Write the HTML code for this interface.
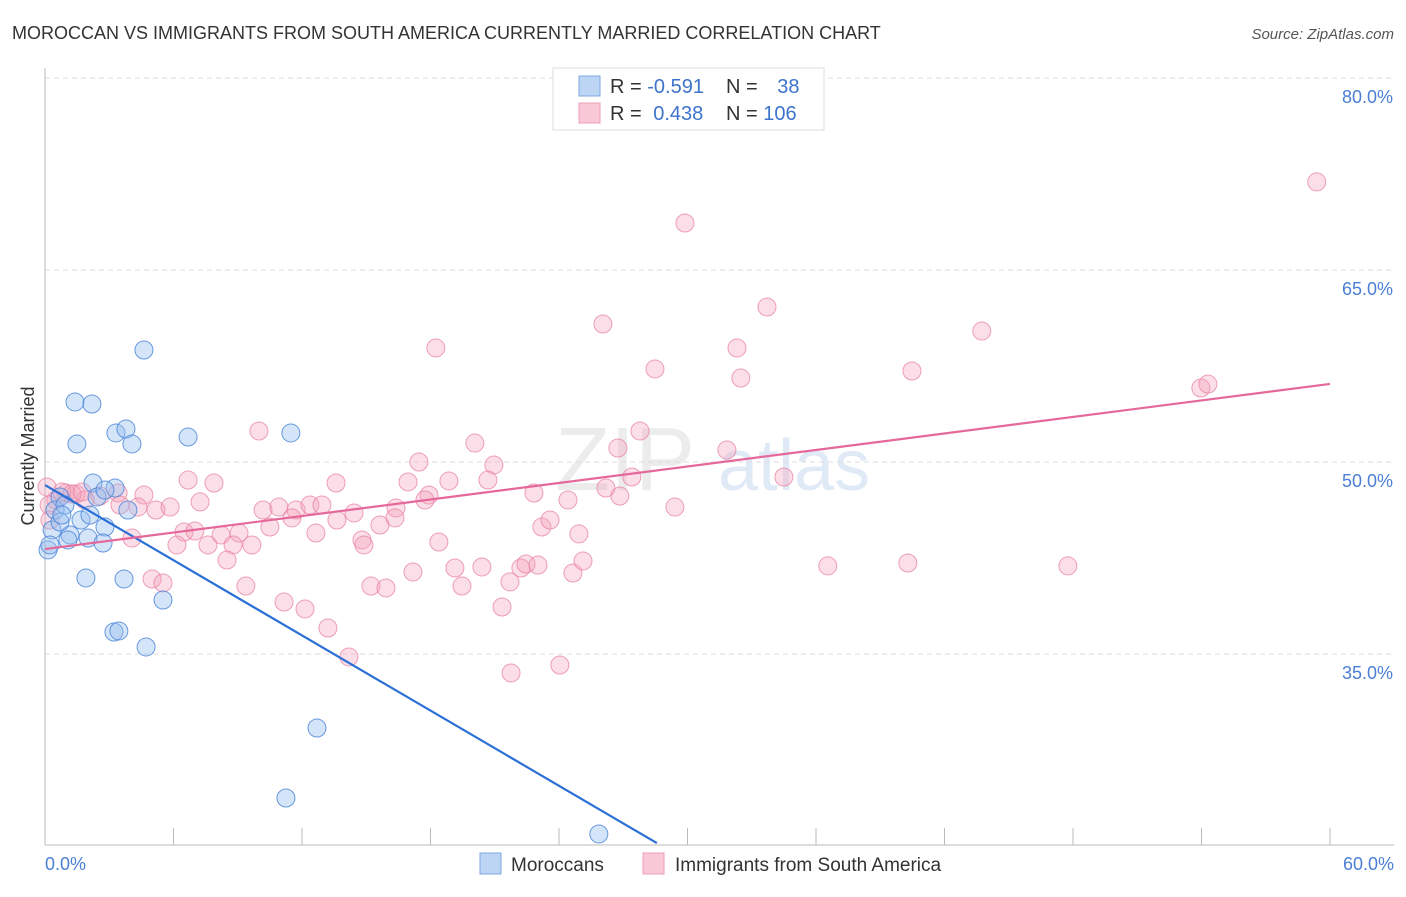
<!DOCTYPE html>
<html><head><meta charset="utf-8"><style>
body{margin:0;background:#fff;font-family:"Liberation Sans",sans-serif}
svg text{font-family:"Liberation Sans",sans-serif}
</style></head><body>
<svg id="chart" width="1406" height="892" xmlns="http://www.w3.org/2000/svg">
<text x="12" y="39" font-size="18" fill="#333">MOROCCAN VS IMMIGRANTS FROM SOUTH AMERICA CURRENTLY MARRIED CORRELATION CHART</text>
<text x="1394" y="39" font-size="15" fill="#555" text-anchor="end" font-style="italic">Source: ZipAtlas.com</text>
<g opacity="0.18"><text x="555" y="490" font-size="90" fill="#999" font-family="Liberation Serif">ZIP</text><text x="718" y="490" font-size="72" fill="#5b8ed8">atlas</text></g>
<g id="grid"></g>
<g id="axes"></g>
<g id="pink"></g>
<g id="blue"></g>
<g id="lines"></g>
<text transform="translate(34,456) rotate(-90)" font-size="18" fill="#333" text-anchor="middle">Currently Married</text>
<g>
<rect x="553" y="68" width="271" height="62" fill="#fff" stroke="#ddd"/>
<rect x="579" y="76" width="21" height="20" fill="#bcd5f5" stroke="#7fa8e0"/>
<rect x="579" y="103" width="21" height="20" fill="#f9c8d6" stroke="#eda0b8"/>
<text x="610" y="93" font-size="20" fill="#333">R = <tspan fill="#3d73cc">-0.591</tspan></text>
<text x="726" y="93" font-size="20" fill="#333">N = <tspan fill="#3d73cc" dx="14">38</tspan></text>
<text x="610" y="120" font-size="20" fill="#333">R = <tspan fill="#3d73cc" dx="6">0.438</tspan></text>
<text x="726" y="120" font-size="20" fill="#333">N = <tspan fill="#3d73cc">106</tspan></text>
</g>
<g>
<rect x="480" y="853" width="21" height="21" fill="#bcd5f5" stroke="#7fa8e0"/>
<text x="511" y="871" font-size="19" fill="#333">Moroccans</text>
<rect x="643" y="853" width="21" height="21" fill="#f9c8d6" stroke="#eda0b8"/>
<text x="675" y="871" font-size="19" fill="#333">Immigrants from South America</text>
</g>
</svg>
<script>
const yTicks=[80,65,50,35];
const yTickLabels=["80.0%","65.0%","50.0%","35.0%"];
const xTicks=[0,6,12,18,24,30,36,42,48,54,60];
const xEndLabels=["0.0%","60.0%"];
const blueX=[4.62,1.40,2.19,1.49,3.31,3.78,4.06,6.68,11.48,2.24,3.27,2.43,3.87,0.70,0.47,1.68,2.80,1.17,2.01,2.71,0.33,0.14,0.70,1.91,3.69,5.51,3.22,3.45,4.72,12.70,11.25,25.86,0.23,0.93,2.80,0.79,2.10,1.07];
const blueY=[58.75,54.69,54.53,51.41,52.27,52.58,51.41,51.95,52.27,48.36,47.97,47.27,46.25,47.27,46.25,45.47,44.92,44.30,44.06,43.67,44.69,43.13,45.31,40.94,40.86,39.22,36.72,36.80,35.55,29.22,23.75,20.94,43.52,46.64,47.81,45.86,45.86,43.91];
const pinkX=[59.38,29.88,33.71,26.05,43.74,18.25,32.31,28.48,40.48,32.49,53.97,54.30,9.99,20.07,27.78,26.75,31.84,20.96,17.46,6.68,7.89,13.59,16.95,18.86,20.68,27.40,34.50,26.19,26.84,22.83,24.42,17.93,17.74,4.62,3.41,2.57,0.98,1.45,1.87,3.50,4.34,5.18,5.84,7.24,10.18,10.92,11.72,12.37,12.93,14.43,16.39,16.34,15.64,13.63,11.53,10.50,12.65,6.49,7.00,8.22,9.06,4.06,6.16,7.61,8.78,9.66,14.80,14.89,18.39,23.20,23.58,24.93,29.41,8.50,17.18,19.14,20.40,22.22,22.46,23.02,24.65,25.12,21.71,19.47,15.22,15.92,9.38,5.00,5.51,11.16,12.14,13.21,21.34,14.19,24.04,21.76,36.55,40.29,47.76,0.19,0.51,0.79,1.26,0.23,0.09,1.73];
const pinkY=[71.88,68.67,62.11,60.78,60.23,58.91,58.91,57.27,57.11,56.56,55.78,56.09,52.42,51.48,52.42,51.09,50.94,49.77,50.0,48.59,48.36,48.36,48.44,48.52,48.59,48.83,48.83,47.97,47.34,47.58,47.03,47.42,47.03,47.42,47.58,47.34,47.58,47.50,47.03,46.64,46.48,46.25,46.48,46.88,46.25,46.48,46.25,46.64,46.64,46.02,46.41,45.63,45.08,45.47,45.63,44.92,44.45,44.53,44.61,44.30,44.45,44.06,43.52,43.52,43.52,43.52,43.91,43.52,43.75,44.92,45.47,44.38,46.48,42.34,41.41,41.72,41.80,41.72,42.03,41.95,41.33,42.27,40.63,40.31,40.31,40.16,40.31,40.86,40.55,39.06,38.52,37.03,38.67,34.77,34.14,33.52,41.88,42.11,41.88,46.64,47.03,47.66,47.50,45.47,48.05,47.66];
const blueTrendX=[0,28.57];
const blueTrendY=[48.2,20.23];
const pinkTrendX=[0,60];
const pinkTrendY=[43.2,56.1];
const NS="http://www.w3.org/2000/svg";
const sx=v=>45+v*(1285/60);
const sy=v=>78+(80-v)*12.8;
function mk(tag,attrs,parent){const e=document.createElementNS(NS,tag);for(const k in attrs)e.setAttribute(k,attrs[k]);parent.appendChild(e);return e;}
const grid=document.getElementById('grid'),axes=document.getElementById('axes');
yTicks.forEach((t,i)=>{
 const l=mk('line',{x1:45,x2:1394,y1:sy(t),y2:sy(t),stroke:'#ddd','stroke-dasharray':'5,4'},grid);
 
 
 const tx=mk('text',{x:1393,y:sy(t)+25,'font-size':18,fill:'#4a7fd4','text-anchor':'end'},axes);
 tx.textContent=yTickLabels[i];
 
 
});
const ax=mk('line',{x1:45,x2:45,y1:68,y2:845,stroke:'#bbb'},axes);


const bx=mk('line',{x1:45,x2:1394,y1:845,y2:845,stroke:'#bbb'},axes);


xTicks.forEach(t=>{
 const l=mk('line',{x1:sx(t),x2:sx(t),y1:828,y2:845,stroke:'#bbb'},axes);
 
 
});
[[0,'start',45],[60,'end',1394]].forEach((d,i)=>{
 const tx=mk('text',{x:d[2],y:870,'font-size':18,fill:'#4a7fd4','text-anchor':d[1]},axes);
 tx.textContent=xEndLabels[i];
 
 
});
const pg=document.getElementById('pink');
pinkX.forEach((x,i)=>{
 const c=mk('circle',{cx:sx(x),cy:sy(pinkY[i]),r:9,fill:'rgba(244,160,186,0.35)',stroke:'rgba(232,130,162,0.75)','stroke-width':1},pg);
 
 
});
const bg=document.getElementById('blue');
blueX.forEach((x,i)=>{
 const c=mk('circle',{cx:sx(x),cy:sy(blueY[i]),r:9,fill:'rgba(150,190,240,0.4)',stroke:'rgba(70,130,215,0.8)','stroke-width':1},bg);
 
 
});
const lg=document.getElementById('lines');
const bl=mk('line',{x1:sx(blueTrendX[0]),y1:sy(blueTrendY[0]),x2:sx(blueTrendX[1]),y2:sy(blueTrendY[1]),stroke:'#2a6fd6','stroke-width':2.2},lg);


const pl=mk('line',{x1:sx(pinkTrendX[0]),y1:sy(pinkTrendY[0]),x2:sx(pinkTrendX[1]),y2:sy(pinkTrendY[1]),stroke:'#e5689a','stroke-width':2.2},lg);


</script>
</body></html>
